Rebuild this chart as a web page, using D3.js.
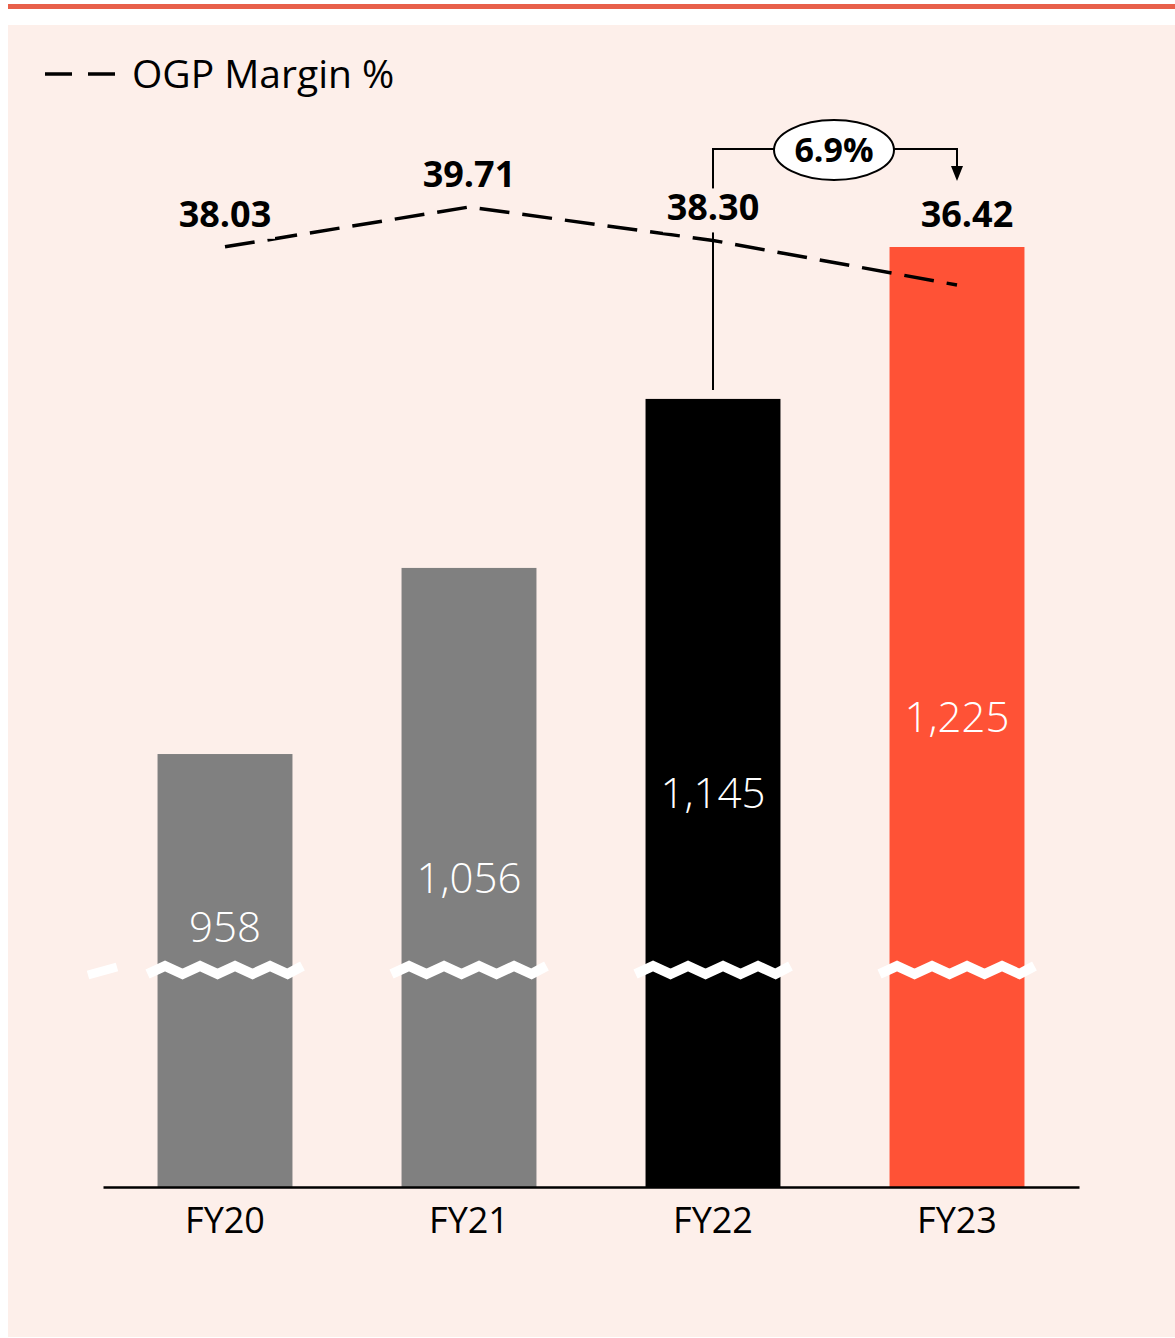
<!DOCTYPE html>
<html>
<head>
<meta charset="utf-8">
<script src="https://cdn.jsdelivr.net/npm/d3@7"></script>
<style>
  body { margin: 0; background: #fff; }
  svg { display: block; }
</style>
</head>
<body>
<svg id="chart"></svg>
<script>
// data
var years = ["FY20", "FY21", "FY22", "FY23"]
var ogp = [958, 1056, 1145, 1225]
var margin = [38.03, 39.71, 38.30, 36.42]
var ogpLabels = ["958", "1,056", "1,145", "1,225"]
var marginLabels = ["38.03", "39.71", "38.30", "36.42"]
var changeLabel = "6.9%"
var barColors = ["#808080", "#808080", "#000000", "#ff5236"]

var dimensions = {
    width: 1175,
    height: 1338,
    margin: { top: 247, bottom: 151, left: 103, right: 96 }
}
var baseY = dimensions.height - dimensions.margin.bottom   // 1187
var breakY = 970
var panelColor = "#fdefea"

var svg = d3.select("#chart")
    .attr("width", dimensions.width)
    .attr("height", dimensions.height)

// top rule + panel
svg.append("rect").attr("x", 8).attr("y", 4).attr("width", dimensions.width - 8).attr("height", 5).attr("fill", "#e8604a")
svg.append("rect").attr("x", 8).attr("y", 25).attr("width", dimensions.width - 8).attr("height", 1312).attr("fill", panelColor)

var xScale = d3.scaleBand()
    .domain(years)
    .range([dimensions.margin.left, dimensions.width - dimensions.margin.right])
    .paddingInner(0.447)
    .paddingOuter(0.2235)

// broken axis, so the baseline is not zero
var yScale = d3.scaleLinear()
    .domain([730, 1225])
    .range([baseY, dimensions.margin.top])

var yMargin = d3.scaleLinear()
    .domain([36.42, 39.71])
    .range([285, 207])

var cx = function(i) { return xScale(years[i]) + xScale.bandwidth() / 2 }

// bars
svg.append("g").selectAll("rect")
    .data(ogp)
    .enter()
    .append("rect")
    .attr("x", (d, i) => xScale(years[i]))
    .attr("y", d => yScale(d))
    .attr("width", xScale.bandwidth())
    .attr("height", d => baseY - yScale(d))
    .attr("fill", (d, i) => barColors[i])

// axis break zigzags
function zigzag(x0, x1, y) {
    var pts = []
    var period = 35, amp = 4
    for (var x = x0, k = 0; x <= x1; x += period / 2, k++) {
        pts.push([x, y + (k % 2 == 0 ? amp : -amp)])
    }
    pts.push([x1, y - amp])
    return pts
}
var zz = svg.append("g")
years.forEach(function(y, i) {
    zz.append("path")
        .attr("d", d3.line()(zigzag(xScale(y) - 10, xScale(y) + xScale.bandwidth() + 10, breakY)))
        .attr("fill", "none")
        .attr("stroke", "#fff")
        .attr("stroke-width", 10)
})
svg.append("line")
    .attr("x1", 88).attr("y1", 975).attr("x2", 117).attr("y2", 967)
    .attr("stroke", "#fff").attr("stroke-width", 9)

// value labels inside bars
svg.append("g").selectAll("text")
    .data(ogp)
    .enter()
    .append("text")
    .attr("x", (d, i) => cx(i))
    .attr("y", d => Math.min((yScale(d) + baseY) / 2, breakY - 43))
    .attr("dy", "0.36em")
    .attr("text-anchor", "middle")
    .attr("fill", "#fff")
    .style("font-family", "Open Sans")
    .style("font-weight", 300)
    .style("font-size", "42px")
    .text((d, i) => ogpLabels[i])

// x axis
var xAxisGen = d3.axisBottom(xScale).tickSize(0).tickPadding(20)
var xAxis = svg.append("g")
    .attr("transform", "translate(0," + baseY + ")")
    .call(xAxisGen)
xAxis.select(".domain").attr("stroke", "#000").attr("stroke-width", 2.5)
xAxis.selectAll("text")
    .style("font-family", "Open Sans")
    .style("font-size", "36px")
    .attr("fill", "#000")

// change annotation FY22 -> FY23 (drawn under the labels)
var topY = 149
var ann = svg.append("g")
ann.append("path")
    .attr("d", "M" + cx(2) + "," + (yScale(ogp[2]) - 9) + "V" + topY + "H" + cx(3) + "V" + 168)
    .attr("fill", "none")
    .attr("stroke", "#000")
    .attr("stroke-width", 2)
ann.append("path")
    .attr("d", "M" + (cx(3) - 6) + ",166L" + (cx(3) + 6) + ",166L" + cx(3) + ",181Z")
    .attr("fill", "#000")
var ex = (cx(2) + cx(3)) / 2 - 1
ann.append("ellipse")
    .attr("cx", ex).attr("cy", 150)
    .attr("rx", 60).attr("ry", 30)
    .attr("fill", "#fff").attr("stroke", "#000").attr("stroke-width", 2)
ann.append("text")
    .attr("x", ex).attr("y", 150)
    .attr("dy", "0.36em")
    .attr("text-anchor", "middle")
    .style("font-family", "Open Sans")
    .style("font-weight", 700)
    .style("font-size", "34px")
    .text(changeLabel)

// margin line
var lineGen = d3.line()
    .x((d, i) => cx(i))
    .y(d => yMargin(d))
svg.append("path")
    .datum(margin)
    .attr("d", lineGen)
    .attr("fill", "none")
    .attr("stroke", "#000")
    .attr("stroke-width", 3.5)
    .attr("stroke-dasharray", "30,13")

var mLabels = svg.append("g")
margin.forEach(function(d, i) {
    var x = cx(i) + (i == 3 ? 10 : 0)
    var y = Math.min(yMargin(d), yScale(ogp[i])) - 20
    // pink box so the annotation line breaks round the label
    mLabels.append("rect")
        .attr("x", x - 50).attr("y", y - 32)
        .attr("width", 100).attr("height", 44)
        .attr("fill", panelColor)
    mLabels.append("text")
        .attr("x", x)
        .attr("y", y)
        .attr("text-anchor", "middle")
        .attr("fill", "#000")
        .style("font-family", "Open Sans")
        .style("font-weight", 700)
        .style("font-size", "36px")
        .text(marginLabels[i])
})

// legend
var legend = svg.append("g")
legend.append("line")
    .attr("x1", 45).attr("x2", 118).attr("y1", 74).attr("y2", 74)
    .attr("stroke", "#000").attr("stroke-width", 3.5)
    .attr("stroke-dasharray", "27,16")
legend.append("text")
    .attr("x", 132).attr("y", 88)
    .style("font-family", "Open Sans")
    .style("font-size", "39px")
    .text("OGP Margin %")
</script>
</body>
</html>
